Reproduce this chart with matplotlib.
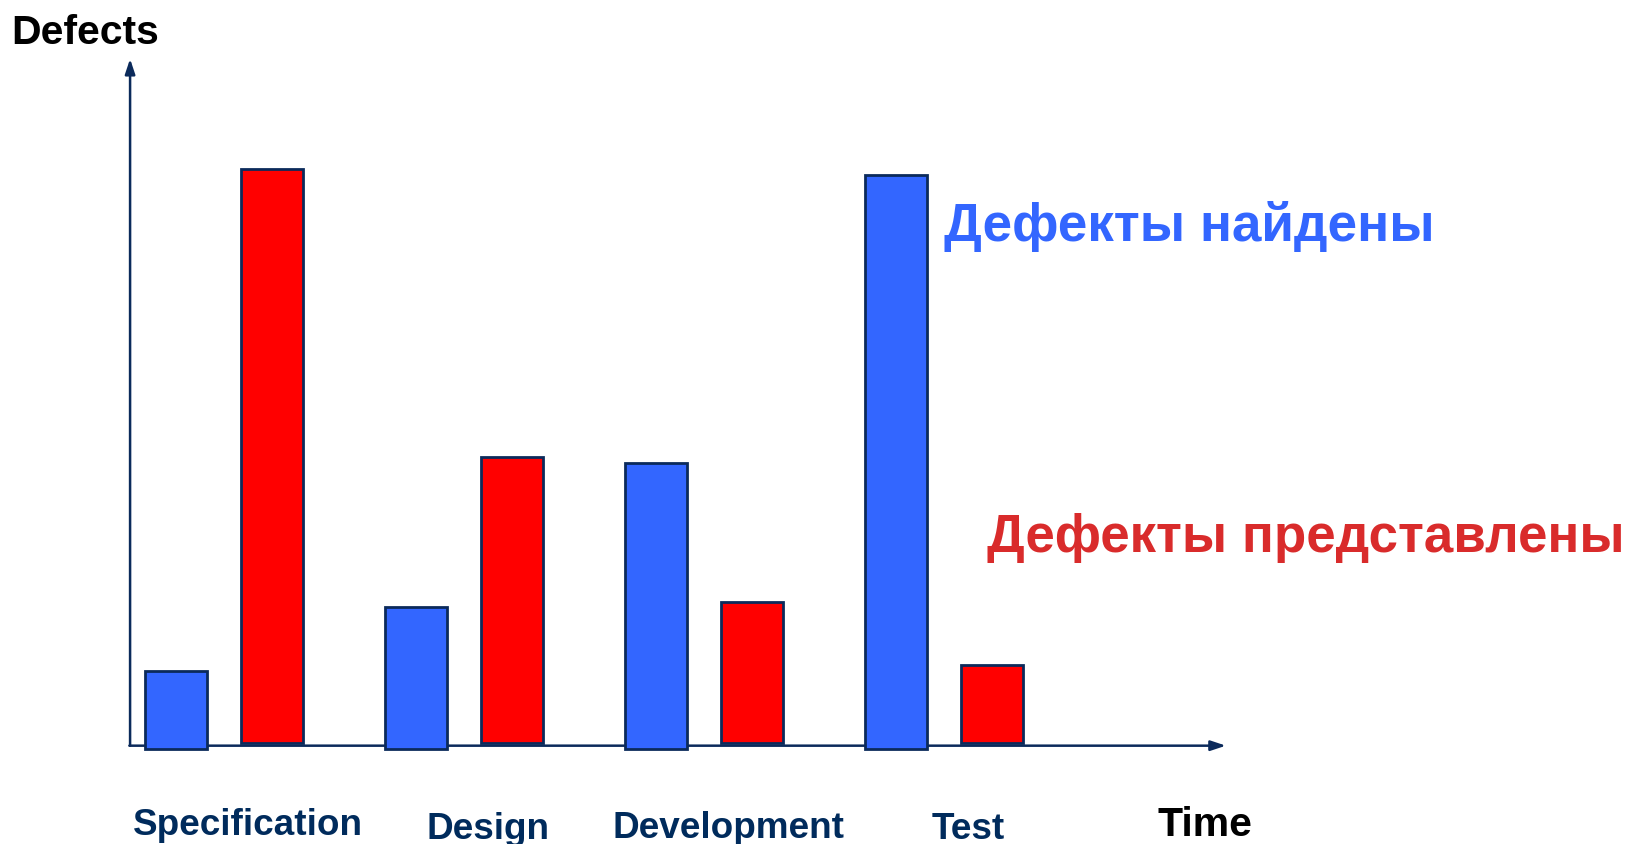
import numpy as np
import matplotlib
matplotlib.use('Agg')
import matplotlib.pyplot as plt
import matplotlib.transforms as mtransforms

plt.rcParams['font.family'] = ['Liberation Sans', 'DejaVu Sans']

#%% data
phases = ['Specification', 'Design', 'Development', 'Test']
found = [13, 24, 49, 99]          # defects found (blue)
introduced = [100, 50, 25, 14]    # defects introduced (red)

label_found = 'Дефекты найдены'
label_intro = 'Дефекты представлены'

#%% colours
c_blue = '#3366FF'
c_red = '#FF0000'
c_edge = '#0B2A5B'
c_navy = '#002B5C'
c_txt_red = '#D92B2B'

W, H = 1637, 845
fig = plt.figure(figsize=(W / 100, H / 100), dpi=100)
ax = fig.add_axes([0, 0, 1, 1])
ax.set_xlim(-0.935, 5.886)
ax.set_ylim(-17.05, 129.48)
ax.axis('off')

x = np.arange(len(phases))
width = 0.258
ax.bar(x - 0.2, np.array(found) + 0.57, bottom=-0.57, width=width,
       color=c_blue, edgecolor=c_edge, linewidth=2, zorder=3)
ax.bar(x + 0.2, np.array(introduced) - 0.47, bottom=0.47, width=width,
       color=c_red, edgecolor=c_edge, linewidth=2, zorder=3)

# axes drawn as arrows
x0 = -0.393
ax.annotate('', xy=(x0, 119.1), xytext=(x0, 0),
            arrowprops=dict(arrowstyle='-|>,head_length=0.9,head_width=0.3',
                            color=c_edge, lw=1.8, shrinkA=0, shrinkB=0), zorder=2)
ax.annotate('', xy=(4.173, 0), xytext=(x0 - 0.003, 0),
            arrowprops=dict(arrowstyle='-|>,head_length=0.9,head_width=0.3',
                            color=c_edge, lw=1.8, shrinkA=0, shrinkB=0), zorder=2)

# phase labels under the bars
trans = mtransforms.blended_transform_factory(ax.transData, fig.transFigure)
label_base = [834.7, 839.5, 838.5, 839.0]
for i, name in enumerate(phases):
    ax.text(x[i] + 0.1, 1 - label_base[i] / H, name, transform=trans,
            ha='center', va='baseline', fontsize=26.6, fontweight='bold',
            color=c_navy)

fig.text(11.7 / W, 1 - 44 / H, 'Defects', ha='left', va='baseline',
         fontsize=29.5, fontweight='bold', color='black')
fig.text(1205 / W, 1 - 836 / H, 'Time', ha='center', va='baseline',
         fontsize=29.5, fontweight='bold', color='black')

fig.text(944 / W, 1 - 240.7 / H, label_found, ha='left', va='baseline',
         fontsize=38.2, fontweight='bold', color=c_blue)
fig.text(987.3 / W, 1 - 551.7 / H, label_intro, ha='left', va='baseline',
         fontsize=38.1, fontweight='bold', color=c_txt_red)

fig.savefig('out.png', dpi=100, facecolor='white')
